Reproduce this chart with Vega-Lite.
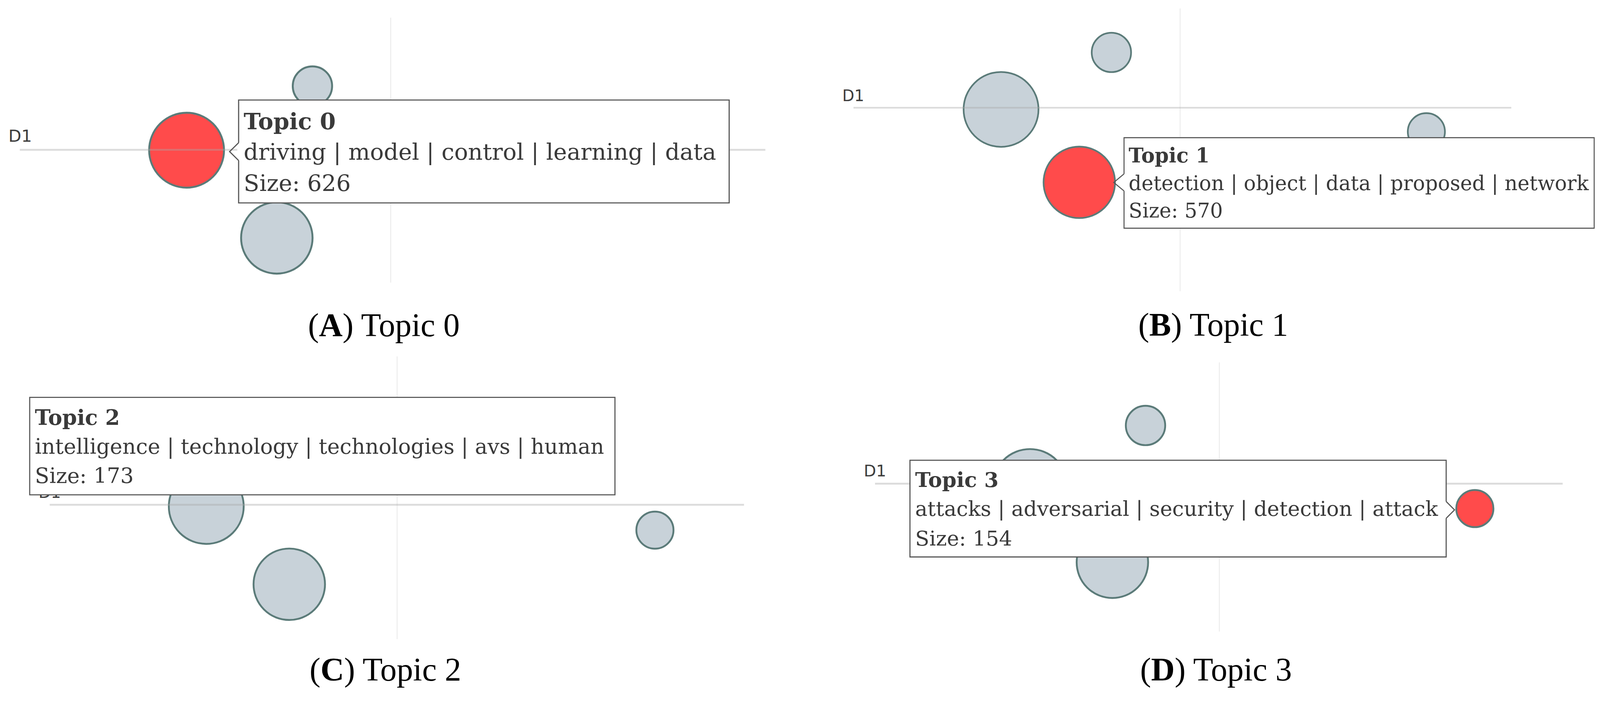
{
  "$schema": "https://vega.github.io/schema/vega-lite/v6.json",
  "background": "white",
  "padding": 0,
  "spacing": 0,
  "columns": 2,
  "bounds": "flush",
  "config": {"view": {"stroke": null}},
  "datasets": {
    "bubbles": [
      {"panel":"A","topic":0,"d1":-536,"d2":-1,"size":626,"state":"selected"},
      {"panel":"A","topic":1,"d1":-299,"d2":-231.5,"size":570,"state":"other"},
      {"panel":"A","topic":2,"d1":-205.5,"d2":167.5,"size":173,"state":"other"},
      {"panel":"A","topic":3,"d1":738,"d2":-68,"size":154,"state":"other"},
      {"panel":"B","topic":0,"d1":-475,"d2":-4.4,"size":626,"state":"other"},
      {"panel":"B","topic":1,"d1":-269.5,"d2":-196,"size":570,"state":"selected"},
      {"panel":"B","topic":2,"d1":-185.2,"d2":145.3,"size":173,"state":"other"},
      {"panel":"B","topic":3,"d1":642,"d2":-63,"size":154,"state":"other"},
      {"panel":"C","topic":0,"d1":-501.3,"d2":-4.4,"size":626,"state":"other"},
      {"panel":"C","topic":1,"d1":-283.3,"d2":-208.8,"size":570,"state":"other"},
      {"panel":"C","topic":2,"d1":-188,"d2":157,"size":173,"state":"selected"},
      {"panel":"C","topic":3,"d1":677,"d2":-66.6,"size":154,"state":"other"},
      {"panel":"D","topic":0,"d1":-497.4,"d2":-7.5,"size":626,"state":"other"},
      {"panel":"D","topic":1,"d1":-281,"d2":-206.5,"size":570,"state":"other"},
      {"panel":"D","topic":2,"d1":-194,"d2":152.8,"size":173,"state":"other"},
      {"panel":"D","topic":3,"d1":670.9,"d2":-65.5,"size":154,"state":"selected"}
    ],
    "hrules": [
      {"panel":"A","d1":-974,"d1b":984,"d2":0},
      {"panel":"B","d1":-862.5,"d1b":865,"d2":0},
      {"panel":"C","d1":-912.4,"d1b":911,"d2":0},
      {"panel":"D","d1":-904.4,"d1b":901.6,"d2":0}
    ],
    "vrules": [
      {"panel":"A","d1":0,"d2":347,"d2b":-349},
      {"panel":"B","d1":-4.7,"d2":261,"d2b":-482},
      {"panel":"C","d1":0,"d2":389.6,"d2b":-353},
      {"panel":"D","d1":0,"d2":318.5,"d2b":-388.5}
    ],
    "axislabels": [
      {"panel":"A","d1":-1004,"d2":20.8,"text":"D1"},
      {"panel":"B","d1":-892,"d2":17,"text":"D1"},
      {"panel":"C","d1":-942,"d2":18,"text":"D1"},
      {"panel":"D","d1":-934,"d2":18.7,"text":"D1"}
    ],
    "boxes": [
      {"panel":"A","d1":-399.3,"d1b":889,"d2":130.8,"d2b":-139.5},
      {"panel":"B","d1":-152,"d1b":1082.7,"d2":-78.7,"d2b":-316.4},
      {"panel":"C","d1":-965,"d1b":572,"d2":282.2,"d2b":26.3},
      {"panel":"D","d1":-812.6,"d1b":595.6,"d2":61.5,"d2b":-192.5}
    ],
    "gaps": [
      {"panel":"A","d1":-399.3,"d2":18.5,"d2b":-28.1},
      {"panel":"B","d1":-152,"d2":-173.7,"d2b":-218.7},
      {"panel":"D","d1":595.6,"d2":-46.9,"d2b":-90.9}
    ],
    "arrows": [
      {"panel":"A","pt":1,"d1":-399.3,"d2":18.5},
      {"panel":"A","pt":2,"d1":-423,"d2":-4.8},
      {"panel":"A","pt":3,"d1":-399.3,"d2":-28.1},
      {"panel":"B","pt":1,"d1":-152,"d2":-173.7},
      {"panel":"B","pt":2,"d1":-179,"d2":-196.3},
      {"panel":"B","pt":3,"d1":-152,"d2":-218.7},
      {"panel":"D","pt":1,"d1":595.6,"d2":-46.9},
      {"panel":"D","pt":2,"d1":617.6,"d2":-68.9},
      {"panel":"D","pt":3,"d1":595.6,"d2":-90.9}
    ],
    "titles": [
      {"panel":"A","d1":-386,"d2":54.2,"text":"Topic 0"},
      {"panel":"B","d1":-140,"d2":-143.9,"text":"Topic 1"},
      {"panel":"C","d1":-951.5,"d2":210.3,"text":"Topic 2"},
      {"panel":"D","d1":-799,"d2":-8.5,"text":"Topic 3"}
    ],
    "bodies": [
      {"panel":"A","d1":-386,"d2":-26.5,"text":"driving | model | control | learning | data"},
      {"panel":"A","d1":-386,"d2":-108.2,"text":"Size: 626"},
      {"panel":"B","d1":-140,"d2":-216.3,"text":"detection | object | data | proposed | network"},
      {"panel":"B","d1":-140,"d2":-288.7,"text":"Size: 570"},
      {"panel":"C","d1":-951.5,"d2":134.4,"text":"intelligence | technology | technologies | avs | human"},
      {"panel":"C","d1":-951.5,"d2":57.3,"text":"Size: 173"},
      {"panel":"D","d1":-799,"d2":-84.5,"text":"attacks | adversarial | security | detection | attack"},
      {"panel":"D","d1":-799,"d2":-162.4,"text":"Size: 154"}
    ],
    "captions": [
      {"panel":"A","d1":-217,"d2":-489.2,"open":"(","letter":"A","rest":") Topic 0"},
      {"panel":"B","d1":-114.6,"d2":-599,"open":"(","letter":"B","rest":") Topic 1"},
      {"panel":"C","d1":-230,"d2":-462,"open":"(","letter":"C","rest":") Topic 2"},
      {"panel":"D","d1":-208,"d2":-517.5,"open":"(","letter":"D","rest":") Topic 3"}
    ]
  },
  "concat": [
    {
      "width": 2048, "height": 892,
      "encoding": {
        "x": {"field":"d1","type":"quantitative","scale":{"domain":[-1026,1075],"nice":false,"zero":false},"axis":null},
        "y": {"field":"d2","type":"quantitative","scale":{"domain":[-521.5,393.5],"nice":false,"zero":false},"axis":null}
      },
      "layer": [
        {"data":{"name":"bubbles"},"transform":[{"filter":"datum.panel === 'A'"}],
         "mark":{"type":"point","shape":"circle","filled":true,"opacity":1,"stroke":"#5b7b79","strokeWidth":4.9},
         "encoding":{"size":{"field":"size","type":"quantitative","scale":{"type":"linear","domain":[0,626],"range":[0,36750]},"legend":null},
           "color":{"field":"state","type":"nominal","scale":{"domain":["selected","other"],"range":["#ff4b4b","#c8d2d9"]},"legend":null}}},
        {"data":{"name":"vrules"},"transform":[{"filter":"datum.panel === 'A'"}],
         "mark":{"type":"rule","color":"#a8a8a8","opacity":0.2,"strokeWidth":2.9},
         "encoding":{"y2":{"field":"d2b"}}},
        {"data":{"name":"hrules"},"transform":[{"filter":"datum.panel === 'A'"}],
         "mark":{"type":"rule","color":"#a8a8a8","opacity":0.4,"strokeWidth":4.9},
         "encoding":{"x2":{"field":"d1b"}}},
        {"data":{"name":"axislabels"},"transform":[{"filter":"datum.panel === 'A'"}],
         "mark":{"type":"text","font":"DejaVu Sans","fontSize":43,"color":"#3d3d3d","align":"left","baseline":"alphabetic"},
         "encoding":{"text":{"field":"text"}}},
        {"data":{"name":"boxes"},"transform":[{"filter":"datum.panel === 'A'"}],
         "mark":{"type":"rect","fill":"white","stroke":"#555555","strokeWidth":2.9},
         "encoding":{"x2":{"field":"d1b"},"y2":{"field":"d2b"}}},
        {"data":{"name":"gaps"},"transform":[{"filter":"datum.panel === 'A'"}],
         "mark":{"type":"rule","color":"white","strokeWidth":6.8},
         "encoding":{"y2":{"field":"d2b"}}},
        {"data":{"name":"arrows"},"transform":[{"filter":"datum.panel === 'A'"}],
         "mark":{"type":"line","color":"#555555","strokeWidth":2.9},
         "encoding":{"order":{"field":"pt"}}},
        {"data":{"name":"titles"},"transform":[{"filter":"datum.panel === 'A'"}],
         "mark":{"type":"text","font":"DejaVu Serif","fontSize":58.5,"fontWeight":"bold","color":"#3a3a3a","align":"left","baseline":"alphabetic"},
         "encoding":{"text":{"field":"text"}}},
        {"data":{"name":"bodies"},"transform":[{"filter":"datum.panel === 'A'"}],
         "mark":{"type":"text","font":"DejaVu Serif","fontSize":58.5,"color":"#3a3a3a","align":"left","baseline":"alphabetic"},
         "encoding":{"text":{"field":"text"}}},
        {"data":{"name":"captions"},"transform":[{"filter":"datum.panel === 'A'"}],
         "mark":{"type":"text","font":"Liberation Serif","fontSize":83.8,"color":"black","align":"left","baseline":"alphabetic"},
         "encoding":{"text":{"field":"open"}}},
        {"data":{"name":"captions"},"transform":[{"filter":"datum.panel === 'A'"}],
         "mark":{"type":"text","font":"Liberation Serif","fontSize":83.8,"fontWeight":"bold","color":"black","align":"left","baseline":"alphabetic","dx":27.9},
         "encoding":{"text":{"field":"letter"}}},
        {"data":{"name":"captions"},"transform":[{"filter":"datum.panel === 'A'"}],
         "mark":{"type":"text","font":"Liberation Serif","fontSize":83.8,"color":"black","align":"left","baseline":"alphabetic","dx":88.4},
         "encoding":{"text":{"field":"rest"}}}
      ]
    },
    {
      "width": 2048, "height": 892,
      "encoding": {
        "x": {"field":"d1","type":"quantitative","scale":{"domain":[-1003,1098],"nice":false,"zero":false},"axis":null},
        "y": {"field":"d2","type":"quantitative","scale":{"domain":[-632,283],"nice":false,"zero":false},"axis":null}
      },
      "layer": [
        {"data":{"name":"bubbles"},"transform":[{"filter":"datum.panel === 'B'"}],
         "mark":{"type":"point","shape":"circle","filled":true,"opacity":1,"stroke":"#5b7b79","strokeWidth":4.3},
         "encoding":{"size":{"field":"size","type":"quantitative","scale":{"type":"linear","domain":[0,626],"range":[0,28780]},"legend":null},
           "color":{"field":"state","type":"nominal","scale":{"domain":["selected","other"],"range":["#ff4b4b","#c8d2d9"]},"legend":null}}},
        {"data":{"name":"vrules"},"transform":[{"filter":"datum.panel === 'B'"}],
         "mark":{"type":"rule","color":"#a8a8a8","opacity":0.2,"strokeWidth":2.6},
         "encoding":{"y2":{"field":"d2b"}}},
        {"data":{"name":"hrules"},"transform":[{"filter":"datum.panel === 'B'"}],
         "mark":{"type":"rule","color":"#a8a8a8","opacity":0.4,"strokeWidth":4.4},
         "encoding":{"x2":{"field":"d1b"}}},
        {"data":{"name":"axislabels"},"transform":[{"filter":"datum.panel === 'B'"}],
         "mark":{"type":"text","font":"DejaVu Sans","fontSize":40,"color":"#3d3d3d","align":"left","baseline":"alphabetic"},
         "encoding":{"text":{"field":"text"}}},
        {"data":{"name":"boxes"},"transform":[{"filter":"datum.panel === 'B'"}],
         "mark":{"type":"rect","fill":"white","stroke":"#555555","strokeWidth":2.6},
         "encoding":{"x2":{"field":"d1b"},"y2":{"field":"d2b"}}},
        {"data":{"name":"gaps"},"transform":[{"filter":"datum.panel === 'B'"}],
         "mark":{"type":"rule","color":"white","strokeWidth":5.9},
         "encoding":{"y2":{"field":"d2b"}}},
        {"data":{"name":"arrows"},"transform":[{"filter":"datum.panel === 'B'"}],
         "mark":{"type":"line","color":"#555555","strokeWidth":2.6},
         "encoding":{"order":{"field":"pt"}}},
        {"data":{"name":"titles"},"transform":[{"filter":"datum.panel === 'B'"}],
         "mark":{"type":"text","font":"DejaVu Serif","fontSize":51.5,"fontWeight":"bold","color":"#3a3a3a","align":"left","baseline":"alphabetic"},
         "encoding":{"text":{"field":"text"}}},
        {"data":{"name":"bodies"},"transform":[{"filter":"datum.panel === 'B'"}],
         "mark":{"type":"text","font":"DejaVu Serif","fontSize":51.5,"color":"#3a3a3a","align":"left","baseline":"alphabetic"},
         "encoding":{"text":{"field":"text"}}},
        {"data":{"name":"captions"},"transform":[{"filter":"datum.panel === 'B'"}],
         "mark":{"type":"text","font":"Liberation Serif","fontSize":83.8,"color":"black","align":"left","baseline":"alphabetic"},
         "encoding":{"text":{"field":"open"}}},
        {"data":{"name":"captions"},"transform":[{"filter":"datum.panel === 'B'"}],
         "mark":{"type":"text","font":"Liberation Serif","fontSize":83.8,"fontWeight":"bold","color":"black","align":"left","baseline":"alphabetic","dx":27.9},
         "encoding":{"text":{"field":"letter"}}},
        {"data":{"name":"captions"},"transform":[{"filter":"datum.panel === 'B'"}],
         "mark":{"type":"text","font":"Liberation Serif","fontSize":83.8,"color":"black","align":"left","baseline":"alphabetic","dx":83.8},
         "encoding":{"text":{"field":"rest"}}}
      ]
    },
    {
      "width": 2048, "height": 892,
      "encoding": {
        "x": {"field":"d1","type":"quantitative","scale":{"domain":[-1043,1058],"nice":false,"zero":false},"axis":null},
        "y": {"field":"d2","type":"quantitative","scale":{"domain":[-504,411],"nice":false,"zero":false},"axis":null}
      },
      "layer": [
        {"data":{"name":"bubbles"},"transform":[{"filter":"datum.panel === 'C'"}],
         "mark":{"type":"point","shape":"circle","filled":true,"opacity":1,"stroke":"#5b7b79","strokeWidth":4.7},
         "encoding":{"size":{"field":"size","type":"quantitative","scale":{"type":"linear","domain":[0,626],"range":[0,33460]},"legend":null},
           "color":{"field":"state","type":"nominal","scale":{"domain":["selected","other"],"range":["#ff4b4b","#c8d2d9"]},"legend":null}}},
        {"data":{"name":"vrules"},"transform":[{"filter":"datum.panel === 'C'"}],
         "mark":{"type":"rule","color":"#a8a8a8","opacity":0.2,"strokeWidth":2.8},
         "encoding":{"y2":{"field":"d2b"}}},
        {"data":{"name":"hrules"},"transform":[{"filter":"datum.panel === 'C'"}],
         "mark":{"type":"rule","color":"#a8a8a8","opacity":0.4,"strokeWidth":4.7},
         "encoding":{"x2":{"field":"d1b"}}},
        {"data":{"name":"axislabels"},"transform":[{"filter":"datum.panel === 'C'"}],
         "mark":{"type":"text","font":"DejaVu Sans","fontSize":41,"color":"#3d3d3d","align":"left","baseline":"alphabetic"},
         "encoding":{"text":{"field":"text"}}},
        {"data":{"name":"boxes"},"transform":[{"filter":"datum.panel === 'C'"}],
         "mark":{"type":"rect","fill":"white","stroke":"#555555","strokeWidth":2.8},
         "encoding":{"x2":{"field":"d1b"},"y2":{"field":"d2b"}}},
        {"data":{"name":"titles"},"transform":[{"filter":"datum.panel === 'C'"}],
         "mark":{"type":"text","font":"DejaVu Serif","fontSize":54,"fontWeight":"bold","color":"#3a3a3a","align":"left","baseline":"alphabetic"},
         "encoding":{"text":{"field":"text"}}},
        {"data":{"name":"bodies"},"transform":[{"filter":"datum.panel === 'C'"}],
         "mark":{"type":"text","font":"DejaVu Serif","fontSize":54,"color":"#3a3a3a","align":"left","baseline":"alphabetic"},
         "encoding":{"text":{"field":"text"}}},
        {"data":{"name":"captions"},"transform":[{"filter":"datum.panel === 'C'"}],
         "mark":{"type":"text","font":"Liberation Serif","fontSize":83.8,"color":"black","align":"left","baseline":"alphabetic"},
         "encoding":{"text":{"field":"open"}}},
        {"data":{"name":"captions"},"transform":[{"filter":"datum.panel === 'C'"}],
         "mark":{"type":"text","font":"Liberation Serif","fontSize":83.8,"fontWeight":"bold","color":"black","align":"left","baseline":"alphabetic","dx":27.9},
         "encoding":{"text":{"field":"letter"}}},
        {"data":{"name":"captions"},"transform":[{"filter":"datum.panel === 'C'"}],
         "mark":{"type":"text","font":"Liberation Serif","fontSize":83.8,"color":"black","align":"left","baseline":"alphabetic","dx":88.4},
         "encoding":{"text":{"field":"rest"}}}
      ]
    },
    {
      "width": 2048, "height": 892,
      "encoding": {
        "x": {"field":"d1","type":"quantitative","scale":{"domain":[-1101.4,999.6],"nice":false,"zero":false},"axis":null},
        "y": {"field":"d2","type":"quantitative","scale":{"domain":[-559.5,355.5],"nice":false,"zero":false},"axis":null}
      },
      "layer": [
        {"data":{"name":"bubbles"},"transform":[{"filter":"datum.panel === 'D'"}],
         "mark":{"type":"point","shape":"circle","filled":true,"opacity":1,"stroke":"#5b7b79","strokeWidth":4.7},
         "encoding":{"size":{"field":"size","type":"quantitative","scale":{"type":"linear","domain":[0,626],"range":[0,33460]},"legend":null},
           "color":{"field":"state","type":"nominal","scale":{"domain":["selected","other"],"range":["#ff4b4b","#c8d2d9"]},"legend":null}}},
        {"data":{"name":"vrules"},"transform":[{"filter":"datum.panel === 'D'"}],
         "mark":{"type":"rule","color":"#a8a8a8","opacity":0.2,"strokeWidth":2.8},
         "encoding":{"y2":{"field":"d2b"}}},
        {"data":{"name":"hrules"},"transform":[{"filter":"datum.panel === 'D'"}],
         "mark":{"type":"rule","color":"#a8a8a8","opacity":0.4,"strokeWidth":4.7},
         "encoding":{"x2":{"field":"d1b"}}},
        {"data":{"name":"axislabels"},"transform":[{"filter":"datum.panel === 'D'"}],
         "mark":{"type":"text","font":"DejaVu Sans","fontSize":41,"color":"#3d3d3d","align":"left","baseline":"alphabetic"},
         "encoding":{"text":{"field":"text"}}},
        {"data":{"name":"boxes"},"transform":[{"filter":"datum.panel === 'D'"}],
         "mark":{"type":"rect","fill":"white","stroke":"#555555","strokeWidth":2.8},
         "encoding":{"x2":{"field":"d1b"},"y2":{"field":"d2b"}}},
        {"data":{"name":"gaps"},"transform":[{"filter":"datum.panel === 'D'"}],
         "mark":{"type":"rule","color":"white","strokeWidth":6.3},
         "encoding":{"y2":{"field":"d2b"}}},
        {"data":{"name":"arrows"},"transform":[{"filter":"datum.panel === 'D'"}],
         "mark":{"type":"line","color":"#555555","strokeWidth":2.8},
         "encoding":{"order":{"field":"pt"}}},
        {"data":{"name":"titles"},"transform":[{"filter":"datum.panel === 'D'"}],
         "mark":{"type":"text","font":"DejaVu Serif","fontSize":53,"fontWeight":"bold","color":"#3a3a3a","align":"left","baseline":"alphabetic"},
         "encoding":{"text":{"field":"text"}}},
        {"data":{"name":"bodies"},"transform":[{"filter":"datum.panel === 'D'"}],
         "mark":{"type":"text","font":"DejaVu Serif","fontSize":53,"color":"#3a3a3a","align":"left","baseline":"alphabetic"},
         "encoding":{"text":{"field":"text"}}},
        {"data":{"name":"captions"},"transform":[{"filter":"datum.panel === 'D'"}],
         "mark":{"type":"text","font":"Liberation Serif","fontSize":83.8,"color":"black","align":"left","baseline":"alphabetic"},
         "encoding":{"text":{"field":"open"}}},
        {"data":{"name":"captions"},"transform":[{"filter":"datum.panel === 'D'"}],
         "mark":{"type":"text","font":"Liberation Serif","fontSize":83.8,"fontWeight":"bold","color":"black","align":"left","baseline":"alphabetic","dx":27.9},
         "encoding":{"text":{"field":"letter"}}},
        {"data":{"name":"captions"},"transform":[{"filter":"datum.panel === 'D'"}],
         "mark":{"type":"text","font":"Liberation Serif","fontSize":83.8,"color":"black","align":"left","baseline":"alphabetic","dx":88.4},
         "encoding":{"text":{"field":"rest"}}}
      ]
    }
  ]
}
